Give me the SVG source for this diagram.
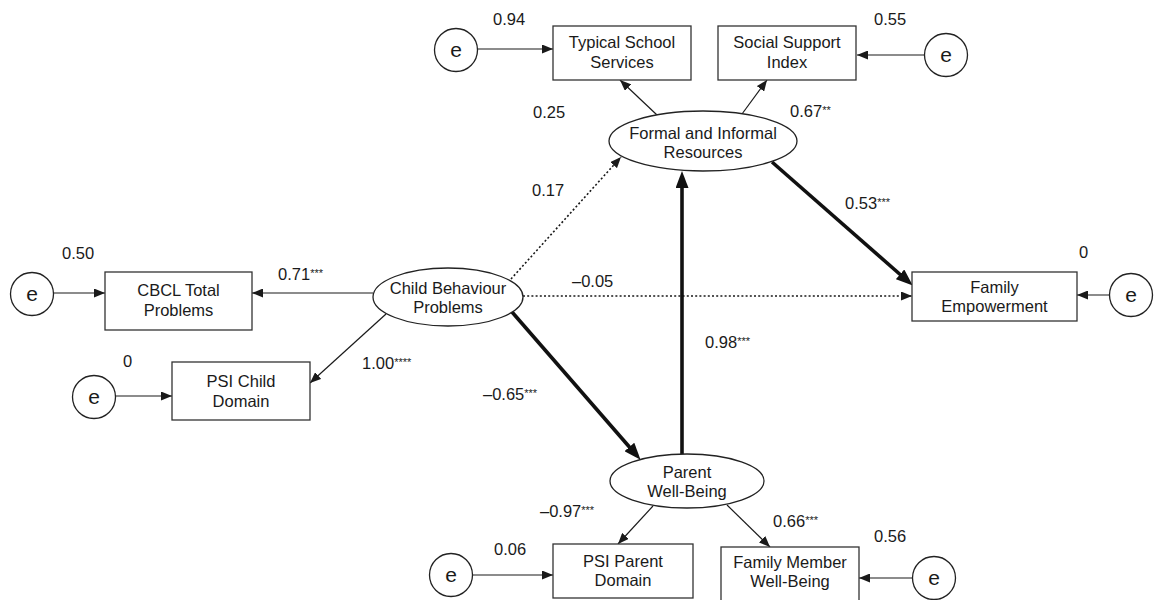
<svg xmlns="http://www.w3.org/2000/svg" width="1154" height="600" viewBox="0 0 1154 600">
<defs>
<style>
.t{font-family:"Liberation Sans",Arial,sans-serif;font-size:16.5px;fill:#1a1a1a;}
.c{text-anchor:middle;}
.e{font-family:"Liberation Sans",Arial,sans-serif;font-size:21px;fill:#1a1a1a;text-anchor:middle;}
.s{font-size:11px;}
.box{fill:#fff;stroke:#333;stroke-width:1.3;}
.ell{fill:#fff;stroke:#222;stroke-width:1.3;}
.thin{stroke:#1a1a1a;stroke-width:1.2;fill:none;marker-end:url(#ah);}
.thick{stroke:#111;stroke-width:3.6;fill:none;marker-end:url(#ahb);}
.dot{stroke:#1a1a1a;stroke-width:1.6;stroke-dasharray:2 2.2;fill:none;marker-end:url(#ah);}
</style>
<marker id="ah" markerUnits="userSpaceOnUse" markerWidth="11" markerHeight="9" refX="11" refY="4.5" orient="auto">
<path d="M0,0 L11,4.5 L0,9 z" fill="#1a1a1a"/>
</marker>
<marker id="ahb" markerUnits="userSpaceOnUse" markerWidth="17" markerHeight="13" refX="4" refY="6.5" orient="auto">
<path d="M0,0 L17,6.5 L0,13 z" fill="#111"/>
</marker>
</defs>
<rect width="1154" height="600" fill="#fff"/>

<g id="connectors">
<line class="thin" x1="478" y1="49" x2="553" y2="49"/>
<line class="thin" x1="924.5" y1="55" x2="857" y2="55"/>
<line class="thin" x1="657" y1="115" x2="620" y2="80"/>
<line class="thin" x1="742" y1="114" x2="767" y2="80"/>
<line class="thin" x1="53.5" y1="293" x2="105" y2="293"/>
<line class="thin" x1="373" y1="293" x2="252" y2="293"/>
<line class="thin" x1="115.5" y1="396" x2="172" y2="396"/>
<line class="thin" x1="386" y1="314" x2="310" y2="383"/>
<line class="thin" x1="1109.5" y1="295" x2="1077" y2="295"/>
<line class="thin" x1="472.5" y1="575" x2="553" y2="575"/>
<line class="thin" x1="912.5" y1="578" x2="859" y2="578"/>
<line class="thin" x1="653" y1="506" x2="618" y2="544"/>
<line class="thin" x1="727" y1="505" x2="770" y2="547"/>
<line class="dot" x1="523" y1="296" x2="912" y2="296"/>
<line class="dot" x1="511" y1="279" x2="621" y2="157"/>
<line class="thick" x1="772" y1="162" x2="903" y2="277"/>
<line class="thick" x1="512" y1="312" x2="632" y2="450"/>
<line class="thick" x1="682" y1="454" x2="682" y2="184"/>
</g>

<g id="coefficients" class="t">
<text x="493" y="25">0.94</text>
<text x="874" y="25">0.55</text>
<text x="533" y="118">0.25</text>
<text x="790" y="117">0.67<tspan class="s" dy="-3">**</tspan></text>
<text x="532" y="196">0.17</text>
<text x="845" y="209">0.53<tspan class="s" dy="-3">***</tspan></text>
<text x="62" y="259">0.50</text>
<text x="278" y="280">0.71<tspan class="s" dy="-3">***</tspan></text>
<text x="572" y="287">–0.05</text>
<text x="1079" y="258">0</text>
<text x="123" y="367">0</text>
<text x="362" y="369">1.00<tspan class="s" dy="-3">****</tspan></text>
<text x="705" y="348">0.98<tspan class="s" dy="-3">***</tspan></text>
<text x="483" y="400">–0.65<tspan class="s" dy="-3">***</tspan></text>
<text x="540" y="517">–0.97<tspan class="s" dy="-3">***</tspan></text>
<text x="773" y="527">0.66<tspan class="s" dy="-3">***</tspan></text>
<text x="874" y="542">0.56</text>
<text x="494" y="555">0.06</text>
</g>

<g id="e-tss"><circle class="ell" cx="456" cy="50" r="21.5"/><text class="e" x="456" y="57">e</text></g>
<g id="typical-school-services"><rect class="box" x="553" y="26" width="138" height="54"/><text class="t c" x="622" y="48">Typical School</text><text class="t c" x="622" y="68">Services</text></g>
<g id="social-support-index"><rect class="box" x="718" y="26" width="138" height="54"/><text class="t c" x="787" y="48">Social Support</text><text class="t c" x="787" y="68">Index</text></g>
<g id="e-ssi"><circle class="ell" cx="946" cy="55" r="21.5"/><text class="e" x="946" y="62">e</text></g>

<g id="formal-informal-resources"><ellipse class="ell" cx="703" cy="141" rx="94" ry="30"/><text class="t c" x="703" y="139">Formal and Informal</text><text class="t c" x="703" y="158">Resources</text></g>

<g id="e-cbcl"><circle class="ell" cx="32" cy="294" r="21.5"/><text class="e" x="32" y="301">e</text></g>
<g id="cbcl-total-problems"><rect class="box" x="105" y="272" width="147" height="58"/><text class="t c" x="178.5" y="296">CBCL Total</text><text class="t c" x="178.5" y="316">Problems</text></g>
<g id="child-behaviour-problems"><ellipse class="ell" cx="448" cy="297" rx="75" ry="29"/><text class="t c" x="448" y="294">Child Behaviour</text><text class="t c" x="448" y="313">Problems</text></g>

<g id="e-psic"><circle class="ell" cx="94" cy="397" r="21.5"/><text class="e" x="94" y="404">e</text></g>
<g id="psi-child-domain"><rect class="box" x="172" y="362" width="138" height="58"/><text class="t c" x="241" y="387">PSI Child</text><text class="t c" x="241" y="407">Domain</text></g>

<g id="family-empowerment"><rect class="box" x="912" y="272" width="165" height="49"/><text class="t c" x="994.5" y="293">Family</text><text class="t c" x="994.5" y="312">Empowerment</text></g>
<g id="e-fe"><circle class="ell" cx="1131" cy="295" r="21.5"/><text class="e" x="1131" y="302">e</text></g>

<g id="parent-well-being"><ellipse class="ell" cx="687" cy="481" rx="77" ry="27"/><text class="t c" x="687" y="478">Parent</text><text class="t c" x="687" y="497">Well-Being</text></g>

<g id="e-psip"><circle class="ell" cx="451" cy="575" r="21.5"/><text class="e" x="451" y="582">e</text></g>
<g id="psi-parent-domain"><rect class="box" x="553" y="544" width="140" height="54"/><text class="t c" x="623" y="567">PSI Parent</text><text class="t c" x="623" y="586">Domain</text></g>
<g id="family-member-well-being"><rect class="box" x="721" y="547" width="138" height="54"/><text class="t c" x="790" y="568">Family Member</text><text class="t c" x="790" y="587">Well-Being</text></g>
<g id="e-fmwb"><circle class="ell" cx="934" cy="578" r="21.5"/><text class="e" x="934" y="585">e</text></g>
</svg>
